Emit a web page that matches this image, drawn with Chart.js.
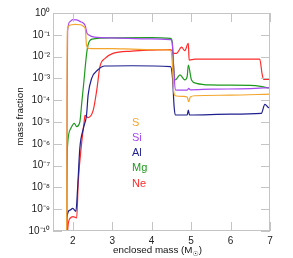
<!DOCTYPE html>
<html>
<head>
<meta charset="utf-8">
<script src="https://cdn.jsdelivr.net/npm/chart.js@4.4.0/dist/chart.umd.min.js"></script>
<style>
  html, body { margin: 0; padding: 0; background: #fff; }
</style>
</head>
<body>
<canvas id="abundChart" width="293" height="258"></canvas>
<script>
// tick labels
const xTickValues = [2, 3, 4, 5, 6, 7];
const yTickExponents = [0, -1, -2, -3, -4, -5, -6, -7, -8, -9, -10];

// S
const sMass = [1.845, 1.855, 1.866, 1.93, 2.05, 2.2, 2.28, 2.32, 2.35, 2.4, 2.6, 3.0, 3.5, 4.0, 4.48, 4.52, 4.56, 4.6, 4.8, 4.9, 4.94, 4.98, 5.1, 6.0, 7.0];
const sFrac = [1e-11, 1e-3, 0.17, 0.28, 0.3, 0.29, 0.24, 0.18, 0.032, 0.024, 0.023, 0.023, 0.022, 0.021, 0.02, 6.3e-3, 2.5e-4, 1.6e-4, 1.5e-4, 1.4e-4, 8.5e-5, 1.4e-4, 1.6e-4, 1.7e-4, 1.9e-4];

// Si
const siMass = [1.845, 1.858, 1.87, 1.93, 2.0, 2.1, 2.2, 2.27, 2.32, 2.36, 2.4, 2.55, 3.0, 4.0, 4.48, 4.52, 4.56, 4.6, 4.9, 4.94, 4.98, 5.5, 6.5, 7.0];
const siFrac = [1e-11, 1e-4, 0.15, 0.4, 0.5, 0.48, 0.4, 0.34, 0.25, 0.12, 0.1, 0.078, 0.072, 0.065, 0.06, 0.045, 3e-3, 3e-4, 2.9e-4, 3.5e-4, 3e-4, 3.2e-4, 3.4e-4, 3.8e-4];

// Al
const alMass = [1.845, 1.85, 1.93, 2.0, 2.08, 2.125, 2.18, 2.27, 2.35, 2.39, 2.48, 2.64, 2.81, 3.5, 4.48, 4.53, 4.57, 4.6, 4.9, 4.93, 4.96, 6.0, 6.78, 6.87, 6.95, 7.0];
const alFrac = [1e-11, 4e-10, 9e-10, 1.1e-9, 8e-10, 1e-8, 6.3e-7, 5.1e-6, 2.1e-5, 1.7e-4, 1e-3, 2.5e-3, 3.7e-3, 3.8e-3, 3.5e-3, 1e-3, 5e-5, 2.1e-5, 2.1e-5, 3.5e-5, 2.1e-5, 2.3e-5, 2.5e-5, 6.5e-5, 4.8e-5, 4.3e-5];

// Mg
const mgMass = [1.845, 1.85, 1.87, 1.95, 2.04, 2.1, 2.18, 2.23, 2.28, 2.35, 2.39, 2.49, 3.0, 4.0, 4.48, 4.52, 4.56, 4.6, 4.72, 4.84, 4.9, 4.93, 5.01, 5.14, 5.47, 6.5, 6.8, 7.0];
const mgFrac = [1e-11, 1e-8, 8.9e-7, 5e-6, 8.7e-6, 6.2e-6, 1e-5, 7.9e-5, 6.3e-4, 0.0126, 0.035, 0.063, 0.072, 0.074, 0.069, 0.05, 3e-3, 8.5e-4, 1.45e-3, 8.5e-4, 1.2e-3, 4.1e-3, 8.5e-4, 5.9e-4, 5e-4, 4.8e-4, 4.2e-4, 3.5e-4];

// Ne
const neMass = [1.86, 1.87, 1.93, 2.01, 2.1, 2.14, 2.23, 2.29, 2.31, 2.39, 2.52, 2.61, 2.69, 2.82, 3.02, 3.5, 4.0, 4.48, 4.52, 4.55, 4.63, 4.76, 4.84, 4.93, 4.95, 5.1, 6.74, 6.8, 6.84, 7.0];
const neFrac = [1e-11, 1e-10, 3.8e-10, 4.6e-10, 4e-10, 1.8e-8, 1.26e-6, 1.05e-5, 2e-5, 1.6e-5, 3.5e-5, 3e-4, 3.5e-3, 8.3e-3, 0.014, 0.018, 0.02, 0.021, 0.018, 0.014, 0.014, 0.027, 0.0186, 0.041, 6.9e-3, 7.6e-3, 7.6e-3, 1.6e-3, 8.9e-4, 9.1e-4];

const supDigits = { "0": "⁰", "1": "¹", "2": "²", "3": "³", "4": "⁴", "5": "⁵", "6": "⁶", "7": "⁷", "8": "⁸", "9": "⁹", "-": "⁻" };
const fontFamily = "'Liberation Sans', Arial, sans-serif";

function toPoints(xs, ys) {
  return xs.map((x, i) => ({ x: x, y: ys[i] }));
}

function powerLabel(v) {
  const e = Math.round(Math.log10(v));
  return "10" + String(e).split("").map((c) => supDigits[c]).join("");
}

function makeSet(label, xs, ys, color) {
  return {
    label: label,
    data: toPoints(xs, ys),
    borderColor: color,
    backgroundColor: color,
    borderWidth: 1.2,
    pointRadius: 0,
    cubicInterpolationMode: "monotone",
    fill: false
  };
}

// frame + inward ticks, like the original plot
const frameTicks = {
  id: "frameTicks",
  afterDatasetsDraw(chart) {
    const { ctx, chartArea: a, scales } = chart;
    ctx.save();
    ctx.strokeStyle = "#c4c4c4";
    ctx.lineWidth = 1;
    ctx.strokeRect(a.left + 0.5, a.top + 0.5, a.right - a.left - 1, a.bottom - a.top - 1);
    ctx.beginPath();
    scales.x.ticks.forEach((t) => {
      const px = Math.round(scales.x.getPixelForValue(t.value)) + 0.5;
      ctx.moveTo(px, a.bottom); ctx.lineTo(px, a.bottom - 9);
      ctx.moveTo(px, a.top); ctx.lineTo(px, a.top + 9);
    });
    scales.y.ticks.forEach((t) => {
      const py = Math.round(scales.y.getPixelForValue(t.value)) + 0.5;
      ctx.moveTo(a.left, py); ctx.lineTo(a.left + 9, py);
      ctx.moveTo(a.right, py); ctx.lineTo(a.right - 9, py);
    });
    ctx.stroke();
    ctx.restore();
  }
};

// axis titles (M with small sun subscript) and the text legend
const textParts = {
  id: "textParts",
  afterDraw(chart) {
    const ctx = chart.ctx;
    ctx.save();

    // x title
    const main = "enclosed mass (M";
    const sun = "☉";
    const close = ")";
    ctx.fillStyle = "#111";
    ctx.textBaseline = "alphabetic";
    ctx.textAlign = "left";
    ctx.font = "9.8px " + fontFamily;
    const wMain = ctx.measureText(main).width;
    const wClose = ctx.measureText(close).width;
    ctx.font = "7px DejaVu Sans, sans-serif";
    const wSun = ctx.measureText(sun).width;
    let x = 157.5 - (wMain + wSun + wClose) / 2;
    ctx.font = "9.8px " + fontFamily;
    ctx.fillText(main, x, 253);
    x += wMain;
    ctx.font = "7px DejaVu Sans, sans-serif";
    ctx.fillText(sun, x, 255.5);
    x += wSun;
    ctx.font = "9.8px " + fontFamily;
    ctx.fillText(close, x, 253);

    // y title
    ctx.translate(20, 116.5);
    ctx.rotate(-Math.PI / 2);
    ctx.textAlign = "center";
    ctx.textBaseline = "middle";
    ctx.fillText("mass fraction", 0, 0);
    ctx.setTransform(1, 0, 0, 1, 0, 0);

    // legend
    ctx.font = "11px " + fontFamily;
    ctx.textAlign = "left";
    ctx.textBaseline = "middle";
    chart.data.datasets.forEach((ds, i) => {
      ctx.fillStyle = ds.borderColor;
      ctx.fillText(ds.label, 132, 122.5 + i * 15.3);
    });
    ctx.restore();
  }
};

const tickFont = { family: fontFamily, size: 10 };

new Chart(document.getElementById("abundChart"), {
  type: "line",
  data: {
    datasets: [
      makeSet("S", sMass, sFrac, "#f4a52c"),
      makeSet("Si", siMass, siFrac, "#a648f0"),
      makeSet("Al", alMass, alFrac, "#1f1f8f"),
      makeSet("Mg", mgMass, mgFrac, "#1d9a1d"),
      makeSet("Ne", neMass, neFrac, "#ff2b2b")
    ]
  },
  options: {
    responsive: false,
    animation: false,
    layout: { padding: { top: 13, right: 23, left: 0, bottom: 0 } },
    plugins: {
      legend: { display: false },
      tooltip: { enabled: false }
    },
    scales: {
      x: {
        type: "linear",
        min: 1.5,
        max: 7,
        afterBuildTicks: (s) => { s.ticks = xTickValues.map((v) => ({ value: v })); },
        afterFit: (s) => { s.height = 27; },
        grid: { display: false, drawTicks: false },
        border: { display: false },
        ticks: { color: "#222", font: tickFont, padding: 4, maxRotation: 0, autoSkip: false, callback: (v) => String(v) }
      },
      y: {
        type: "logarithmic",
        min: 1e-10,
        max: 1,
        afterBuildTicks: (s) => { s.ticks = yTickExponents.map((e) => ({ value: Math.pow(10, e) })); },
        afterFit: (s) => { s.width = 53; },
        grid: { display: false, drawTicks: false },
        border: { display: false },
        ticks: { color: "#222", font: tickFont, padding: 3, autoSkip: false, callback: (v) => powerLabel(v) }
      }
    }
  },
  plugins: [frameTicks, textParts]
});
</script>
</body>
</html>
